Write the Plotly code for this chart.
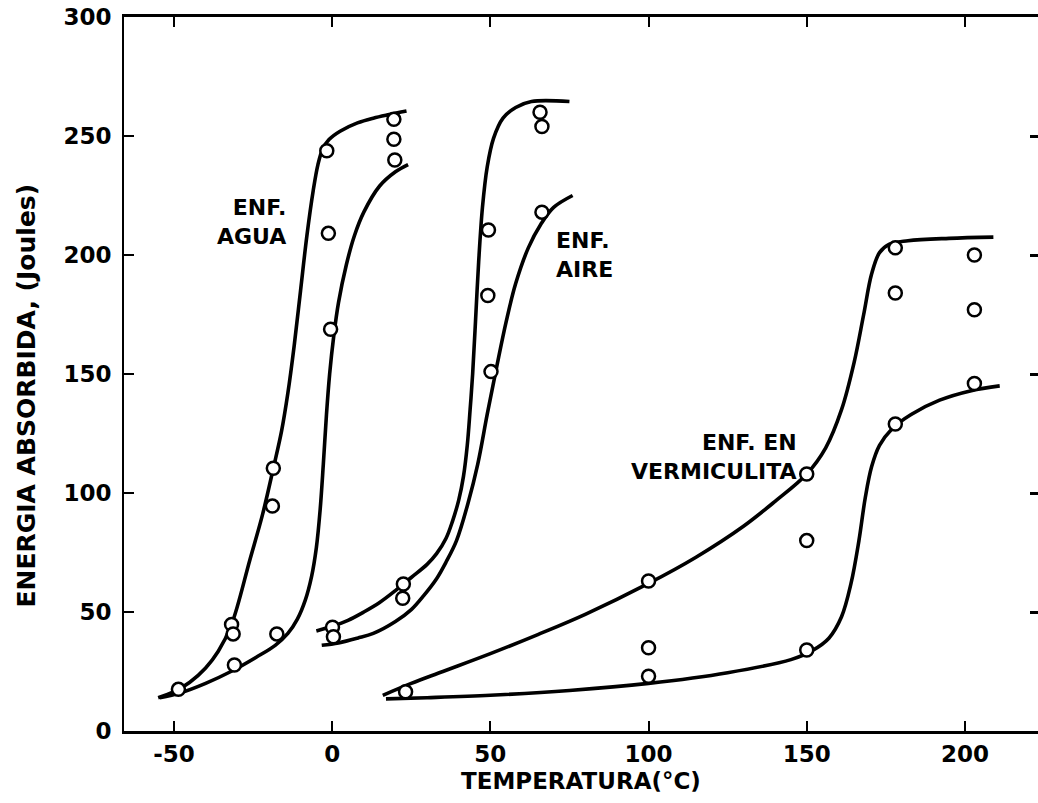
import plotly.graph_objects as go

# ---- curves (temperature °C, energy J) ----
agua_up_t = [-55, -50, -45, -40, -36, -31.8, -26, -22, -18.6, -16, -14, -12, -10, -8, -6, -4.5, -3, -1, 2.5, 8, 13, 18, 23.5]
agua_up_v = [14, 16.5, 20.5, 26.5, 33.5, 44.8, 72, 91, 110.4, 126, 142, 162, 185, 208, 227, 238, 244.5, 248.5, 252, 255.5, 257.5, 259, 260.5]

agua_lo_t = [-54.5, -48, -40, -32, -24, -18, -14, -11, -8.5, -6.5, -5, -3.8, -2.8, -1.8, -0.8, 0.5, 2, 4.5, 7, 10, 15, 20, 24]
agua_lo_v = [14, 16, 20, 25, 31, 36, 41, 47, 55, 65, 77, 93, 112, 133, 150, 166, 180, 196, 208, 218, 229, 235, 238]

aire_up_t = [-5, 0, 5, 10, 15, 20, 25, 30, 33, 36, 38, 40, 41.5, 42.7, 43.6, 44.4, 45.3, 46.3, 47.5, 49, 51, 54, 58, 63, 75]
aire_up_v = [42, 44, 46.5, 50, 54, 59, 64.5, 70, 74.5, 81, 88, 97, 107, 120, 135, 150, 172, 197, 220, 237, 249, 257.5, 262, 264.5, 264.5]

aire_lo_t = [-3.3, 2, 8, 13, 20, 25, 29, 33, 36, 39.3, 43, 46, 49, 52, 55, 58, 62, 66, 70, 76]
aire_lo_v = [36, 37, 39, 41, 46, 51, 57, 64, 71, 80, 96, 112, 133, 153, 172, 188, 203, 213, 220, 225]

verm_up_t = [16, 25, 35, 50, 65, 80, 100, 115, 130, 140, 150, 156, 161, 165, 168, 170.5, 173, 176, 182, 195, 209]
verm_up_v = [15, 20, 25, 32.5, 40.5, 49, 62, 73, 86, 96.5, 108, 119, 135, 155, 175, 192, 201, 204.5, 206, 207, 207.5]

verm_lo_t = [17, 30, 50, 75, 100, 125, 145, 152, 157, 161, 164, 166.5, 168.5, 170.5, 173, 177, 183, 192, 202, 211]
verm_lo_v = [13.5, 14, 15, 17, 20, 24.5, 30, 34, 39, 48, 62, 80, 98, 111, 120, 127, 133, 139, 143, 145]

# ---- measured points ----
agua_pt_t = [-48.6, -31.8, -31.3, -30.9, -18.6, -18.9, -17.5, -1.7, -1.2, -0.5, 19.5, 19.5, 19.8]
agua_pt_v = [17.5, 44.8, 40.8, 27.7, 110.4, 94.5, 40.8, 243.8, 209.1, 168.8, 257, 248.6, 239.9]

aire_pt_t = [0.1, 0.4, 22.5, 22.3, 49.4, 49.2, 50.2, 65.7, 66.3, 66.3]
aire_pt_v = [43.6, 39.6, 61.8, 55.8, 210.5, 183, 151, 260, 254, 218]

verm_pt_t = [23.2, 100, 100, 100, 150, 150, 150, 178, 178, 178, 203, 203, 203]
verm_pt_v = [16.5, 63, 35, 23, 108, 80, 34, 203, 184, 129, 200, 177, 146]

x_ticks = [-50, 0, 50, 100, 150, 200]
y_ticks = [0, 50, 100, 150, 200, 250, 300]

FONT = "DejaVu Sans"
fig = go.Figure()

for t, v in [(agua_up_t, agua_up_v), (agua_lo_t, agua_lo_v),
             (aire_up_t, aire_up_v), (aire_lo_t, aire_lo_v),
             (verm_up_t, verm_up_v), (verm_lo_t, verm_lo_v)]:
    fig.add_trace(go.Scatter(x=t, y=v, mode="lines",
                             line=dict(color="black", width=3.6, shape="spline", smoothing=1.0),
                             showlegend=False, hoverinfo="skip"))

for t, v in [(agua_pt_t, agua_pt_v), (aire_pt_t, aire_pt_v), (verm_pt_t, verm_pt_v)]:
    fig.add_trace(go.Scatter(x=t, y=v, mode="markers",
                             marker=dict(symbol="circle", size=13, color="white",
                                         line=dict(color="black", width=2.5)),
                             showlegend=False))

# invisible trace for right-side ticks
fig.add_trace(go.Scatter(x=[0], y=[0], yaxis="y2", mode="markers",
                         marker=dict(opacity=0), showlegend=False, hoverinfo="skip"))

ann_font = dict(family=FONT, size=22, color="black")
fig.add_annotation(x=-14, y=214, text="<b>ENF.<br>AGUA</b>", showarrow=False,
                   xanchor="right", yanchor="middle", align="right", font=ann_font)
fig.add_annotation(x=70, y=200, text="<b>ENF.<br>AIRE</b>", showarrow=False,
                   xanchor="left", yanchor="middle", align="left", font=ann_font)
fig.add_annotation(x=147.5, y=115, text="<b>ENF. EN<br>VERMICULITA</b>", showarrow=False,
                   xanchor="right", yanchor="middle", align="right", font=ann_font)

# axis titles
fig.add_annotation(xref="paper", yref="paper", x=-0.107, y=0.47,
                   text="<b>ENERGIA ABSORBIDA, (Joules)</b>", textangle=-90, showarrow=False,
                   xanchor="center", yanchor="middle",
                   font=dict(family=FONT, size=25, color="black"))
fig.add_annotation(xref="paper", yref="paper", x=0.5, y=-0.07,
                   text="<b>TEMPERATURA(°C)</b>", showarrow=False,
                   xanchor="center", yanchor="middle",
                   font=dict(family=FONT, size=23, color="black"))

fig.update_layout(
    width=1038, height=803,
    margin=dict(l=124, r=0, t=17, b=72),
    paper_bgcolor="white", plot_bgcolor="white",
    xaxis=dict(range=[-65.8, 223.1], tickvals=x_ticks, ticktext=[f"<b>{v}</b>" for v in x_ticks],
               ticks="inside", ticklen=10, tickwidth=2, tickcolor="black",
               showline=True, linecolor="black", linewidth=3, mirror="ticks",
               showgrid=False, zeroline=False,
               tickfont=dict(family=FONT, size=23, color="black")),
    yaxis=dict(range=[0, 300], tickvals=y_ticks, ticktext=[f"<b>{v}</b>" for v in y_ticks],
               ticks="inside", ticklen=10, tickwidth=2, tickcolor="black",
               showline=True, linecolor="black", linewidth=2,
               showgrid=False, zeroline=False, ticklabelstandoff=6,
               tickfont=dict(family=FONT, size=23, color="black")),
    yaxis2=dict(range=[0, 300], overlaying="y", side="right", tickvals=y_ticks,
                showticklabels=False, ticks="inside", ticklen=8, tickwidth=2.5, tickcolor="black",
                showline=False, showgrid=False, zeroline=False),
)

fig.write_html("out.html")
